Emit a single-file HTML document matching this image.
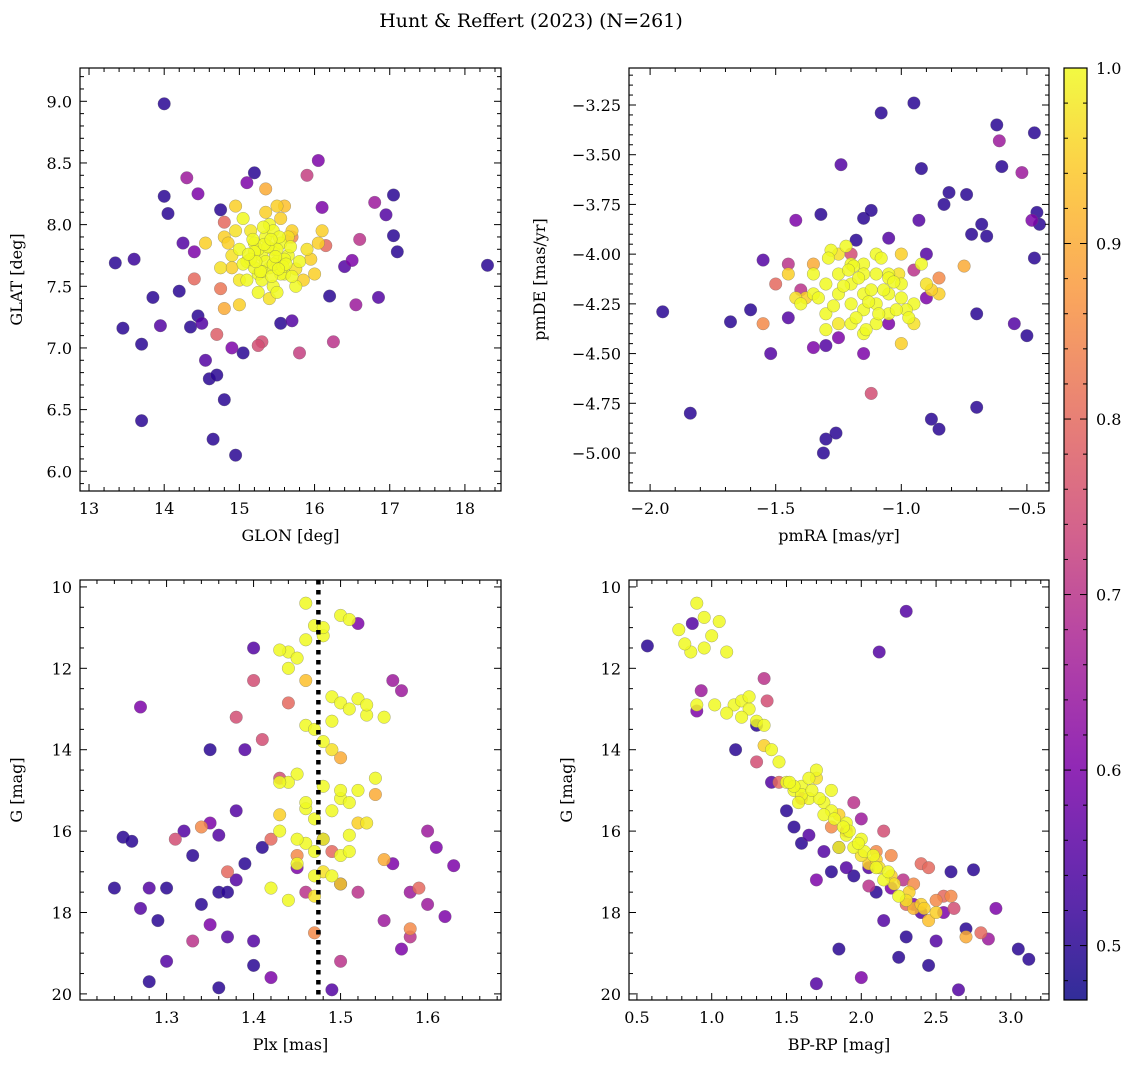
<!DOCTYPE html>
<html><head><meta charset="utf-8">
<style>
html,body{margin:0;padding:0;background:#fff;}
svg{display:block;font-family:"DejaVu Serif","Liberation Serif",serif;}
</style></head>
<body>
<svg id="fig" width="1136" height="1067" viewBox="0 0 1136 1067" xmlns="http://www.w3.org/2000/svg">
<text x="531" y="27" font-size="19" text-anchor="middle">Hunt &amp; Reffert (2023) (N=261)</text>
</svg>
<script>
// ---------- data ----------
const p1Glon=[14.0,13.35,13.45,13.6,13.7,13.7,13.85,13.95,14.0,14.05,14.2,14.25,14.35,14.4,14.45,14.5,14.55,14.6,14.65,14.7,14.8,14.95,14.9,15.05,14.75,15.2,15.1,15.3,15.25,15.55,15.7,15.8,15.9,16.05,16.1,16.2,16.25,16.4,16.5,16.55,16.6,16.8,16.85,16.95,17.05,17.05,17.1,18.3,14.3,14.45,14.8,14.4,14.75,14.7,14.8,15.0,14.9,15.35,15.5,15.7,16.15,14.55,14.8,
15.0,15.1,15.2,15.25,15.3,15.35,15.4,15.45,15.5,15.55,15.6,15.65,15.3,15.45,15.15,15.4,15.55,15.7,15.8,15.9,16.0,15.2,15.1,14.9,14.95,15.35,15.6,15.75,15.5,15.85,15.05,15.25,15.45,15.35,15.55,15.65,15.25,15.5,16.05,14.75,16.1,15.0,14.95,15.4,15.3,15.6,15.45,15.2,15.7,
15.15,15.28,15.38,15.48,15.58,15.33,15.43,15.53,15.22,15.62,15.18,15.68,15.42,15.52,15.32,15.05,15.75,15.12,15.95,14.85];
const p1Glat=[8.98,7.69,7.16,7.72,7.03,6.41,7.41,7.18,8.23,8.09,7.46,7.85,7.17,7.78,7.26,7.2,6.9,6.75,6.26,6.78,6.58,6.13,7.0,6.96,8.12,8.42,8.34,7.05,7.02,7.2,7.22,6.96,8.4,8.52,8.14,7.42,7.05,7.66,7.71,7.35,7.88,8.18,7.41,8.08,8.24,7.91,7.78,7.67,8.38,8.25,8.02,7.56,7.48,7.11,7.32,7.35,7.65,8.29,8.15,7.9,7.83,7.85,7.9,
7.8,7.7,7.85,7.6,7.75,7.9,7.65,7.8,7.7,7.85,7.6,7.75,7.55,7.5,7.95,8.0,8.05,7.95,7.7,7.8,7.6,7.65,7.55,7.75,7.95,8.1,8.15,7.5,7.45,7.55,8.05,7.45,7.95,7.7,7.6,7.9,7.8,7.8,7.85,7.65,7.95,7.55,8.15,7.4,7.62,7.72,7.68,7.78,7.58,
7.72,7.62,7.82,7.74,7.66,7.84,7.58,7.9,7.7,7.68,7.88,7.82,7.88,7.64,7.98,7.68,7.64,7.76,7.72,7.85];
const p1Prob=[.5,.5,.5,.52,.5,.5,.5,.55,.5,.5,.5,.55,.5,.6,.5,.55,.55,.5,.5,.5,.5,.5,.6,.5,.5,.5,.6,.75,.75,.5,.55,.72,.72,.6,.6,.5,.7,.55,.6,.65,.7,.65,.55,.55,.5,.5,.5,.5,.65,.6,.8,.8,.82,.78,.9,.95,.95,.9,.95,.85,.8,.95,.95,
1,1,1,1,1,1,1,1,1,1,1,1,1,1,.98,1,.95,.95,1,.97,.95,1,1,.97,.97,.95,.93,1,1,.95,1,1,1,1,1,.97,1,1,.95,.97,.95,.98,.95,.97,1,1,1,1,1,
1,1,1,1,1,1,1,1,1,1,1,1,1,1,1,1,.97,1,.95,.95];

const p2PmRA=[-1.95,-1.84,-1.68,-1.6,-1.55,-1.52,-1.45,-1.42,-1.35,-1.32,-1.31,-1.3,-1.26,-1.24,-1.18,-1.15,-1.12,-1.12,-1.08,-1.05,-0.95,-0.92,-0.93,-0.9,-0.88,-0.85,-0.83,-0.81,-0.74,-0.72,-0.7,-0.7,-0.68,-0.66,-0.62,-0.61,-0.6,-0.55,-0.52,-0.5,-0.47,-0.46,-0.45,-0.47,-0.48,-0.75,-1.55,-1.35,-1.0,-0.85,-1.25,-1.15,-1.05,-1.4,-1.2,-0.95,-0.9,-1.5,-1.3,-1.45,
-1.15,-1.2,-1.1,-1.25,-1.05,-1.3,-1.0,-1.35,-0.95,-1.15,-1.2,-1.1,-1.25,-1.05,-1.3,-1.0,-1.4,-0.9,-1.15,-1.2,-1.1,-1.25,-1.05,-1.35,-0.95,-1.15,-1.2,-1.1,-1.45,-0.85,-1.3,-1.0,-1.15,-1.25,-1.05,-1.12,-1.18,-1.08,-1.22,-0.98,-1.38,-1.28,-0.92,-1.02,
-1.17,-1.13,-1.07,-1.23,-1.27,-1.03,-0.97,-1.33,-1.19,-1.09,-1.14,-1.21,-1.01,-1.29,-0.88,-1.42];
const p2PmDE=[-4.29,-4.8,-4.34,-4.28,-4.03,-4.5,-4.32,-3.83,-4.47,-3.8,-5.0,-4.93,-4.9,-3.55,-3.93,-3.82,-3.78,-4.7,-3.29,-3.92,-3.24,-3.57,-3.83,-4.0,-4.83,-4.88,-3.75,-3.69,-3.7,-3.9,-4.3,-4.77,-3.85,-3.91,-3.35,-3.43,-3.56,-4.35,-3.59,-4.41,-3.39,-3.79,-3.85,-4.02,-3.83,-4.06,-4.35,-4.05,-4.45,-4.12,-4.42,-4.5,-4.35,-4.18,-4.0,-4.08,-4.22,-4.15,-4.46,-4.05,
-4.2,-4.15,-4.25,-4.1,-4.2,-4.3,-4.15,-4.2,-4.25,-4.05,-4.35,-4.1,-4.0,-4.3,-4.15,-4.0,-4.25,-4.15,-4.4,-4.25,-4.35,-4.35,-4.1,-4.1,-4.35,-4.1,-4.05,-4.0,-4.1,-4.2,-4.38,-4.22,-4.28,-4.2,-4.12,-4.18,-4.32,-4.02,-3.96,-4.28,-4.22,-3.98,-4.05,-4.28,
-4.12,-4.24,-4.18,-4.16,-4.26,-4.14,-4.32,-4.22,-4.06,-4.3,-4.38,-4.08,-4.1,-4.02,-4.18,-4.22];
const p2Prob=[.5,.5,.5,.5,.55,.55,.55,.6,.6,.5,.5,.5,.5,.55,.5,.5,.5,.75,.5,.55,.5,.5,.55,.55,.5,.5,.5,.5,.5,.5,.5,.5,.5,.5,.5,.65,.5,.55,.65,.5,.5,.5,.5,.5,.6,.9,.85,.9,.95,.85,.6,.6,.6,.7,.75,.7,.6,.8,.55,.7,
1,1,1,1,1,1,1,1,1,1,1,1,.97,1,1,.95,1,.97,1,1,1,.98,1,1,.97,1,1,1,.95,.95,1,1,1,1,1,1,1,1,1,1,.95,1,1,1,
1,1,1,1,1,1,1,1,1,1,1,1,.97,1,.95,.97];

const p3Plx=[1.24,1.25,1.26,1.27,1.28,1.28,1.3,1.3,1.29,1.32,1.33,1.34,1.35,1.36,1.37,1.37,1.38,1.39,1.4,1.4,1.41,1.42,1.35,1.36,1.36,1.4,1.35,1.38,1.39,1.45,1.49,1.5,1.52,1.55,1.56,1.57,1.58,1.58,1.6,1.6,1.61,1.62,1.63,1.56,1.57,1.52,1.48,1.44,1.46,1.43,1.41,1.37,1.38,1.4,1.42,1.34,1.31,1.27,1.33,1.49,1.5,1.45,1.54,1.55,1.58,1.59,1.47,1.5,
1.46,1.47,1.48,1.5,1.51,1.44,1.45,1.43,1.46,1.48,1.49,1.5,1.51,1.52,1.53,1.46,1.47,1.49,1.45,1.44,1.48,1.5,1.52,1.46,1.47,1.49,1.51,1.43,1.46,1.48,1.5,1.47,1.45,1.49,1.53,1.54,1.55,1.5,1.47,1.44,1.42,1.43,1.48,1.46,1.52,1.51,1.45,1.48,1.5,1.46,1.44,1.53,1.49,1.43,1.51,1.47];
const p3G=[17.4,16.15,16.25,17.9,17.4,19.7,19.2,17.4,18.2,16.0,16.6,17.8,14.0,17.5,17.5,18.6,17.2,16.8,18.7,19.3,16.4,19.6,18.3,16.1,19.85,11.5,15.8,15.5,14.0,16.9,19.9,17.3,10.9,18.2,16.8,18.9,18.6,17.5,17.8,16.0,16.4,18.1,16.85,12.3,12.55,17.5,16.2,12.85,17.5,14.7,13.75,17.0,13.2,12.3,16.2,15.9,16.2,12.95,18.7,16.5,14.2,16.6,15.1,16.7,18.4,17.4,18.5,19.2,
10.4,10.95,11.2,10.7,10.8,11.6,11.75,11.55,11.3,11.0,12.7,12.85,13.0,12.75,13.15,13.4,13.5,13.3,14.6,14.8,14.9,15.2,15.0,15.45,15.7,15.5,15.3,16.0,16.3,16.2,16.6,16.5,16.8,17.1,15.8,14.7,13.2,15.0,17.6,17.7,17.4,14.8,13.8,15.3,15.8,16.5,16.2,17.0,17.3,12.3,12.0,12.9,14.0,15.6,16.1,17.1,16.4,18.1,17.7,18.2];
const p3Prob=[.5,.5,.5,.55,.55,.5,.55,.5,.5,.55,.5,.5,.5,.5,.5,.55,.55,.5,.55,.5,.5,.6,.6,.55,.5,.55,.6,.55,.55,.6,.55,.55,.6,.65,.6,.6,.7,.65,.65,.65,.6,.6,.6,.65,.65,.7,.6,.8,.7,.75,.75,.8,.75,.75,.8,.85,.75,.6,.7,.8,.9,.85,.9,.9,.85,.8,.85,.7,
1,1,1,1,1,1,1,1,1,1,1,1,1,1,1,1,1,1,1,1,1,1,1,1,1,1,1,1,1,1,1,1,1,1,.98,1,1,1,.97,1,1,1,1,1,.95,1,1,.97,.95,.93,1,1,.97,.95,1,1,1,1,.95,1];
const p3ClusterPlx=[1.4745];

const p4Col=[0.57,0.87,0.93,0.9,1.16,1.3,1.35,1.4,1.5,1.37,1.55,1.6,1.65,1.7,1.75,1.8,1.85,1.9,1.95,2.0,2.05,2.1,2.15,2.2,2.25,2.3,2.35,2.4,2.45,2.5,2.55,2.6,2.65,2.7,2.75,2.85,2.9,3.05,3.12,2.3,2.12,1.7,1.85,2.05,2.28,2.62,1.95,2.0,2.15,2.4,2.55,1.3,1.45,1.6,1.8,2.1,2.35,2.5,2.7,2.8,2.2,1.9,2.45,2.6,2.3,
0.78,0.86,0.9,0.95,0.95,1.0,1.05,0.9,1.1,1.15,1.2,1.25,1.3,1.1,1.35,1.4,1.45,1.5,1.55,1.6,1.65,1.7,1.75,1.8,1.85,1.9,1.95,2.0,2.05,2.1,2.15,2.2,2.25,2.3,2.4,2.45,2.5,1.7,1.8,1.9,2.0,1.6,1.75,1.85,2.1,2.35,1.55,1.25,1.35,1.65,
1.58,1.72,1.82,1.92,2.02,2.12,2.22,2.32,2.42,1.67,1.88,2.08,2.18,1.98,1.52,1.2,1.02,0.82];
const p4G=[11.45,10.9,12.55,13.05,14.0,13.4,12.25,14.8,15.5,12.8,15.9,16.3,16.1,17.2,16.5,17.0,18.9,16.9,17.1,19.6,16.9,17.5,18.2,17.4,19.1,18.6,17.8,18.0,19.3,18.7,18.0,17.0,19.9,18.4,16.95,18.65,17.9,18.9,19.15,10.6,11.6,19.75,16.4,17.35,17.2,17.9,15.3,15.7,16.0,16.8,17.6,14.3,14.8,15.2,15.9,16.5,17.3,17.7,18.6,18.5,16.6,16.0,16.9,17.6,17.8,
11.05,11.6,10.4,10.75,11.5,11.2,10.85,12.9,11.6,12.9,12.8,13.0,13.3,13.1,13.4,14.0,14.3,14.8,15.0,14.9,15.2,14.7,15.3,15.5,15.6,16.1,16.4,16.6,16.8,16.9,17.2,17.1,17.6,17.7,17.8,18.2,18.0,14.5,15.0,15.8,16.2,15.1,15.6,16.4,16.7,17.9,14.9,12.7,13.9,14.7,
15.3,15.2,15.7,16.0,16.5,16.9,17.3,17.5,17.9,15.0,15.9,16.6,17.0,16.3,14.8,13.2,12.9,11.4];
const p4Prob=[.5,.55,.65,.6,.5,.5,.7,.55,.5,.75,.5,.5,.55,.6,.55,.5,.5,.55,.5,.6,.55,.5,.55,.6,.5,.5,.6,.55,.5,.55,.6,.5,.55,.5,.5,.65,.6,.5,.5,.55,.55,.55,.6,.7,.7,.75,.7,.65,.75,.8,.8,.75,.8,.8,.85,.85,.85,.85,.9,.8,.85,.75,.8,.85,.8,
1,1,1,1,1,1,1,1,1,1,1,1,1,1,1,1,1,1,1,1,1,.97,1,1,.95,1,1,.97,.95,1,1,.95,1,.97,.95,.93,.95,1,1,1,1,1,1,1,.95,.92,1,1,.95,1,
1,1,1,1,1,.97,.97,.95,.95,1,1,1,1,1,1,1,1,1];

const cbTicks=[0.5,0.6,0.7,0.8,0.9,1.0];
const cMin=0.469,cMax=1.0;

// ---------- helpers ----------
const NS='http://www.w3.org/2000/svg';
const fig=document.getElementById('fig');
function mk(tag,attrs,parent){const e=document.createElementNS(NS,tag);for(const k in attrs)e.setAttribute(k,attrs[k]);(parent||fig).appendChild(e);return e;}
const stops=[[0,[13,8,135]],[0.13,[75,3,161]],[0.25,[125,3,168]],[0.38,[168,34,150]],[0.5,[203,70,121]],[0.63,[229,107,93]],[0.75,[248,148,65]],[0.88,[253,195,40]],[1,[240,249,33]]];
function plasma(t){t=Math.max(0,Math.min(1,t));for(let i=1;i<stops.length;i++){if(t<=stops[i][0]){const a=stops[i-1],b=stops[i];const f=(t-a[0])/(b[0]-a[0]);const c=a[1].map((v,j)=>Math.round(v+(b[1][j]-v)*f));return `rgb(${c[0]},${c[1]},${c[2]})`;}}return 'rgb(240,249,33)';}
function cnorm(v){return (v-cMin)/(cMax-cMin);}

function panel(cfg){
  const {name,L,T,R,B,x0,x1,y0,y1,xs,ys,cs,xMaj,xMin,yMaj,yMin,xlab,ylab,fmtX,fmtY}=cfg;
  const g=mk('g',{});
  
  
  const sx=v=>L+(v-x0)/(x1-x0)*(R-L);
  const sy=v=>T+(v-y0)/(y1-y0)*(B-T);
  const idx=xs.map((_,i)=>i).sort((a,b)=>cs[a]-cs[b]);
  const pg=mk('g',{},g);
  
  
  idx.forEach(i=>{
    const c=mk('circle',{cx:sx(xs[i]).toFixed(1),cy:sy(ys[i]).toFixed(1),r:6.3,fill:plasma(cnorm(cs[i])),'fill-opacity':0.85,stroke:'#666','stroke-width':0.4,'stroke-opacity':0.7},pg);
    
    
  });
  if(cfg.extra)cfg.extra(g,sx,sy);
  const fr=mk('rect',{x:L,y:T,width:R-L,height:B-T,fill:'none',stroke:'#000','stroke-width':1.2},g);
  
  
  const eps=1e-9;
  const xa=Math.min(x0,x1),xb=Math.max(x0,x1);
  for(let v=Math.ceil(xa/xMin-eps)*xMin;v<=xb+eps;v+=xMin){
    const isMaj=Math.abs(v/xMaj-Math.round(v/xMaj))<1e-6;const len=isMaj?7:4;const x=sx(v);
    mk('line',{x1:x,x2:x,y1:B,y2:B-len,stroke:'#000','stroke-width':1},g);
    mk('line',{x1:x,x2:x,y1:T,y2:T+len,stroke:'#000','stroke-width':1},g);
    if(isMaj){const t=mk('text',{x:x,y:B+23,'font-size':16,'text-anchor':'middle'},g);t.textContent=fmtX(v);
      
      }
  }
  const ya=Math.min(y0,y1),yb=Math.max(y0,y1);
  for(let v=Math.ceil(ya/yMin-eps)*yMin;v<=yb+eps;v+=yMin){
    const isMaj=Math.abs(v/yMaj-Math.round(v/yMaj))<1e-6;const len=isMaj?7:4;const y=sy(v);
    mk('line',{x1:L,x2:L+len,y1:y,y2:y,stroke:'#000','stroke-width':1},g);
    mk('line',{x1:R,x2:R-len,y1:y,y2:y,stroke:'#000','stroke-width':1},g);
    if(isMaj){const t=mk('text',{x:L-8,y:y+6,'font-size':16,'text-anchor':'end'},g);t.textContent=fmtY(v);
      
      }
  }
  const xl=mk('text',{x:(L+R)/2,y:B+50,'font-size':16,'text-anchor':'middle'},g);xl.textContent=xlab;
  
  
  const yl=mk('text',{x:0,y:0,'font-size':16,'text-anchor':'middle',transform:`translate(${cfg.ylx},${(T+B)/2}) rotate(-90)`},g);yl.textContent=ylab;
  
  
}
const minus=s=>s.replace('-','\u2212');

panel({name:'glon-glat-panel',L:80,T:68,R:501,B:491,x0:12.88,x1:18.48,y0:9.27,y1:5.84,xs:p1Glon,ys:p1Glat,cs:p1Prob,xMaj:1,xMin:0.2,yMaj:0.5,yMin:0.1,xlab:'GLON [deg]',ylab:'GLAT [deg]',ylx:22,fmtX:v=>Math.round(v).toString(),fmtY:v=>v.toFixed(1)});
panel({name:'proper-motion-panel',L:629,T:68,R:1049,B:491,x0:-2.084,x1:-0.412,y0:-3.064,y1:-5.191,xs:p2PmRA,ys:p2PmDE,cs:p2Prob,xMaj:0.5,xMin:0.1,yMaj:0.25,yMin:0.05,xlab:'pmRA [mas/yr]',ylab:'pmDE [mas/yr]',ylx:545,fmtX:v=>minus(v.toFixed(1)),fmtY:v=>minus(v.toFixed(2))});
panel({name:'plx-g-panel',L:80,T:580,R:501,B:1000,x0:1.2005,x1:1.6844,y0:9.83,y1:20.15,xs:p3Plx,ys:p3G,cs:p3Prob,xMaj:0.1,xMin:0.02,yMaj:2,yMin:0.5,xlab:'Plx [mas]',ylab:'G [mag]',ylx:22,fmtX:v=>v.toFixed(1),fmtY:v=>Math.round(v).toString(),
  extra:(g,sx,sy)=>{const l=mk('line',{x1:sx(p3ClusterPlx[0]),x2:sx(p3ClusterPlx[0]),y1:580,y2:1000,stroke:'#000','stroke-width':4.5,'stroke-dasharray':'4.5 5.5'},g);
    
    }});
panel({name:'cmd-panel',L:629,T:580,R:1049,B:1000,x0:0.447,x1:3.255,y0:9.83,y1:20.15,xs:p4Col,ys:p4G,cs:p4Prob,xMaj:0.5,xMin:0.1,yMaj:2,yMin:0.5,xlab:'BP-RP [mag]',ylab:'G [mag]',ylx:572,fmtX:v=>v.toFixed(1),fmtY:v=>Math.round(v).toString()});

// colorbar
const cb=mk('g',{});


const defs=mk('defs',{},cb);
const grad=mk('linearGradient',{id:'cbg',x1:0,y1:1,x2:0,y2:0},defs);
for(let i=0;i<=20;i++){mk('stop',{offset:i/20,'stop-color':plasma(i/20),'stop-opacity':0.85},grad);}
const CT=68,CB=1000,CL=1064,CR=1087;
mk('rect',{x:CL,y:CT,width:CR-CL,height:CB-CT,fill:'url(#cbg)',stroke:'#000','stroke-width':1.2},cb);
const cy=v=>CB-(v-cMin)/(cMax-cMin)*(CB-CT);
for(let v=0.48;v<=1.0001;v+=0.02){const y=cy(v);const maj=Math.abs(v*10-Math.round(v*10))<1e-6;
  mk('line',{x1:CR,x2:CR-(maj?7:4),y1:y,y2:y,stroke:'#000','stroke-width':1},cb);
  mk('line',{x1:CL,x2:CL+(maj?7:4),y1:y,y2:y,stroke:'#000','stroke-width':1},cb);}
cbTicks.forEach(v=>{const t=mk('text',{x:CR+9,y:cy(v)+6,'font-size':16},cb);t.textContent=v.toFixed(1);
  
  });
</script>
</body></html>
